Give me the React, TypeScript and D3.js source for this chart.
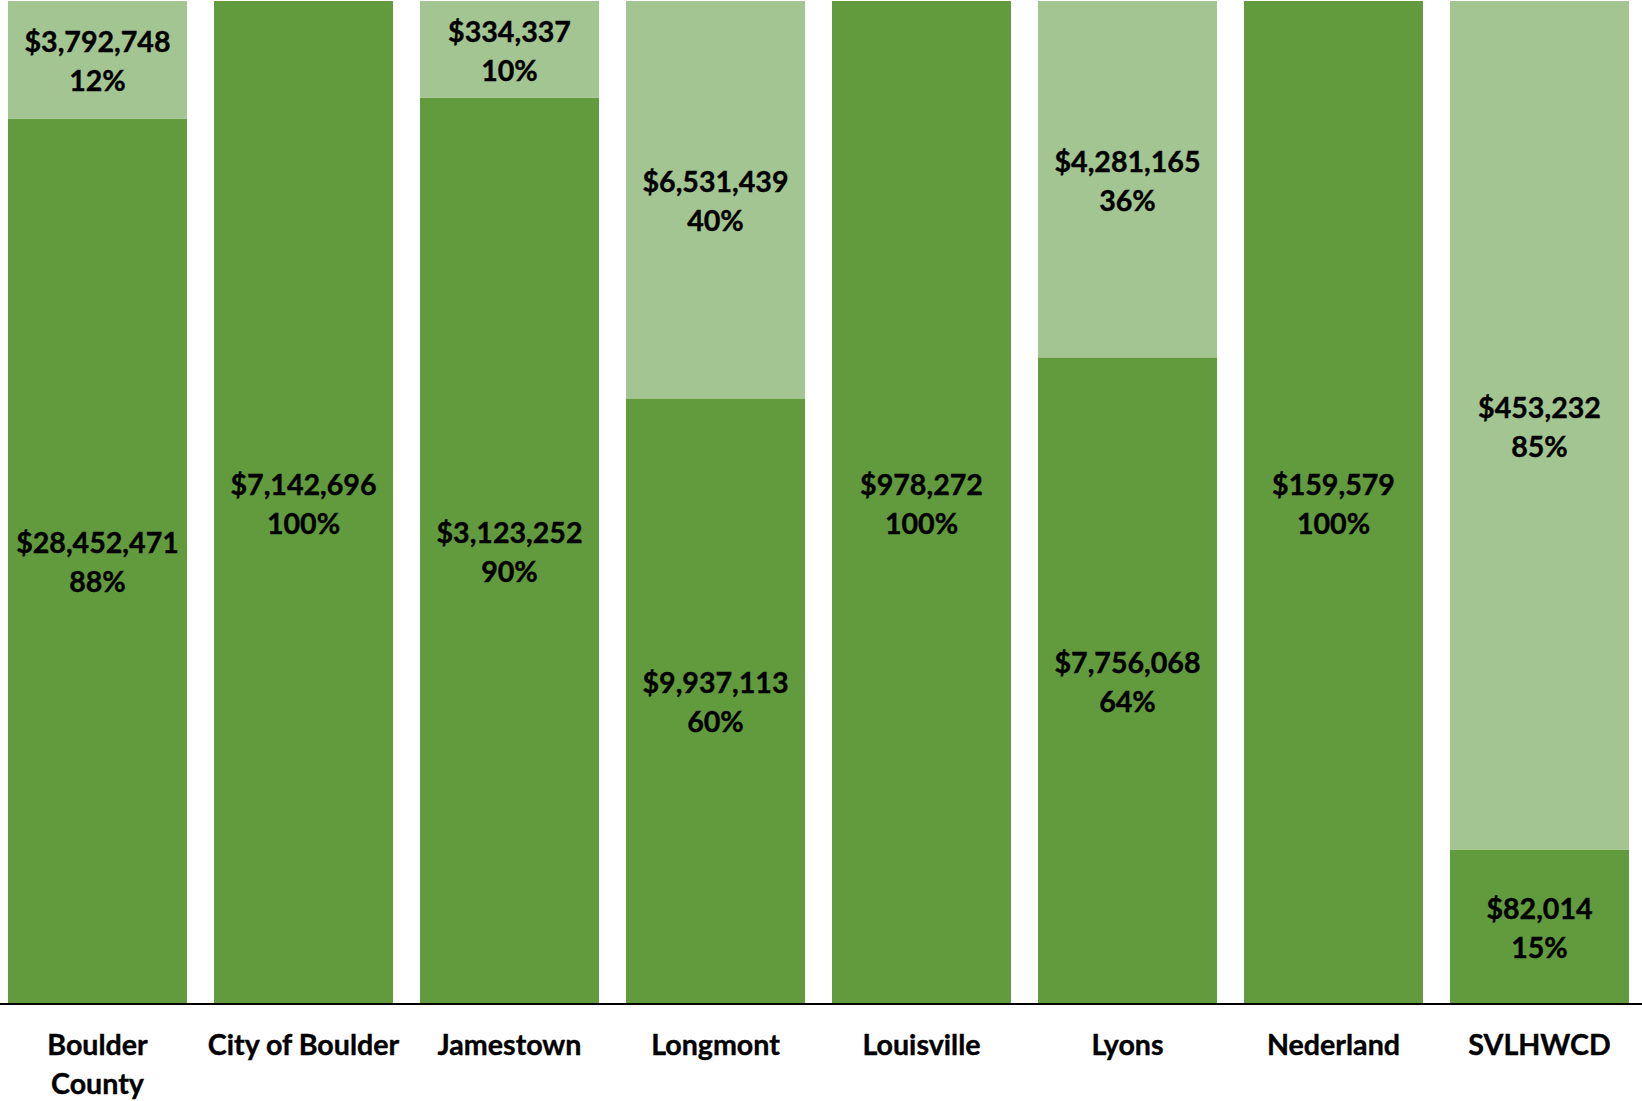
import React from "react";
import * as d3 from "d3";

const categories = ["Boulder County", "City of Boulder", "Jamestown", "Longmont", "Louisville", "Lyons", "Nederland", "SVLHWCD"];
const tickLabels = [["Boulder", "County"], ["City of Boulder"], ["Jamestown"], ["Longmont"], ["Louisville"], ["Lyons"], ["Nederland"], ["SVLHWCD"]];
const darkValues = [28452471, 7142696, 3123252, 9937113, 978272, 7756068, 159579, 82014];
const lightValues = [3792748, 0, 334337, 6531439, 0, 4281165, 0, 453232];
const seriesKeys = ["dark", "light"];
const seriesColors = ["#629A3E", "#A3C592"];

const W = 1642;
const H = 1101;
const FONT = "Lato, 'Open Sans', sans-serif";

export default function App() {
  const rows = categories.map((c, i) => ({ cat: c, dark: darkValues[i], light: lightValues[i] }));
  const stack = d3.stack<any>().keys(seriesKeys).offset(d3.stackOffsetExpand);
  const series = stack(rows);

  const x = d3.scaleBand().domain(categories).range([-5.5, 1642.5]).paddingInner(0.131).paddingOuter(0.0655);
  const y = d3.scaleLinear().domain([0, 1]).range([1003, 1]);
  const fmt = d3.format("$,");

  return (
    <svg width={W} height={H} style={{ position: "absolute", left: 0, top: 0, background: "#fff" }} fontFamily={FONT}>
      {series.map((s, si) => (
        <g key={s.key}>
          {s.map((d, i) => {
            const raw = (d.data as any)[s.key] as number;
            if (!raw) return null;
            const x0 = x(categories[i])!;
            const y0 = y(d[1]);
            const y1 = y(d[0]);
            const cy = (y0 + y1) / 2 + 1;
            const cx = x0 + x.bandwidth() / 2;
            const pct = Math.round((d[1] - d[0]) * 100);
            return (
              <g key={i}>
                <rect x={x0} y={y0} width={x.bandwidth()} height={y1 - y0} fill={seriesColors[si]} />
                <text x={cx} textAnchor="middle" fontWeight="bold" fontSize={28.6} fill="#000" stroke="#000" strokeWidth={0.4}>
                  <tspan x={cx} y={cy - 19.5} dominantBaseline="central">{fmt(raw)}</tspan>
                  <tspan x={cx} y={cy + 19.5} dominantBaseline="central">{pct + "%"}</tspan>
                </text>
              </g>
            );
          })}
        </g>
      ))}
      <line x1={0} x2={W} y1={1004} y2={1004} stroke="#000" strokeWidth={2} />
      {categories.map((c, i) => {
        const cx = x(c)! + x.bandwidth() / 2;
        return (
          <text key={c} textAnchor="middle" fontWeight="bold" fontSize={28.6} fill="#000" stroke="#000" strokeWidth={0.4}>
            {tickLabels[i].map((t, j) => (
              <tspan key={j} x={cx} y={1044 + j * 39} dominantBaseline="central">{t}</tspan>
            ))}
          </text>
        );
      })}
    </svg>
  );
}
